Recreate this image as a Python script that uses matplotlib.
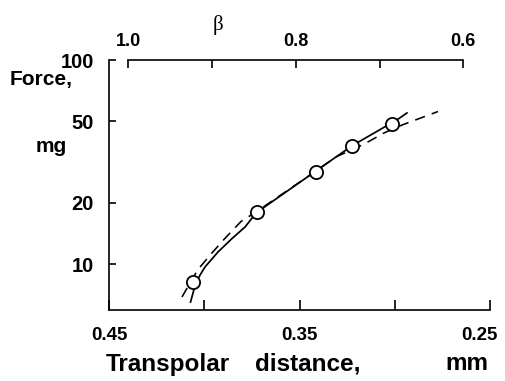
import matplotlib
matplotlib.use("Agg")
import matplotlib.pyplot as plt
from matplotlib.ticker import NullLocator
from matplotlib.transforms import ScaledTranslation

# -------------------------------
# Values
# -------------------------------

# measured points: transpolar distance (mm) and force (mg)
points_distance = [0.4057, 0.3724, 0.3413, 0.3226, 0.3014]
points_force = [8.15, 18.0, 28.4, 38.0, 48.6]

# solid curve
solid_distance = [0.4072, 0.4046, 0.4022, 0.3996, 0.3928, 0.3854, 0.3786,
                  0.3728, 0.3413, 0.3224, 0.3051, 0.3012, 0.2936]
solid_force = [6.51, 7.98, 8.83, 9.67, 11.45, 13.34, 15.18,
               17.8, 28.6, 38.0, 47.1, 49.1, 55.0]

# dashed curve
dashed_distance = [0.4117, 0.4035, 0.3962, 0.3891, 0.3807, 0.3728, 0.3413,
                   0.3308, 0.3161, 0.3056, 0.2962, 0.2773]
dashed_force = [6.89, 9.35, 11.26, 13.37, 16.16, 18.0, 28.6,
                33.5, 38.7, 43.9, 48.0, 55.9]

x_ticks = [0.45, 0.40, 0.35, 0.30, 0.25]
x_ticklabels = ["0.45", "", "0.35", "", "0.25"]
y_ticks = [10, 20, 50, 100]
y_ticklabels = ["10", "20", "50", "100"]
beta_ticks = [1.0, 0.9, 0.8, 0.7, 0.6]
beta_ticklabels = ["1.0", "", "0.8", "", "0.6"]
beta_ref = 0.44  # transpolar distance where beta = 1

# -------------------------------
# Figure
# -------------------------------

plt.rcParams["font.family"] = ["Liberation Sans", "DejaVu Sans"]
plt.rcParams["font.weight"] = "bold"

fig = plt.figure(figsize=(5.05, 3.81), dpi=100)
ax = fig.add_axes([109 / 505, 71 / 381, 381 / 505, 250 / 381])

ax.plot(solid_distance, solid_force, color="black", lw=1.25, zorder=2)
ax.plot(dashed_distance, dashed_force, color="black", lw=1.15,
        linestyle=(0, (6.5, 4.5)), zorder=2)
ax.plot(points_distance, points_force, "o", ms=9.5, mfc="white", mec="black",
        mew=1.3, zorder=3)

ax.set_yscale("log")
ax.set_xlim(0.45, 0.25)
ax.set_ylim(5.95, 100)

ax.set_xticks(x_ticks)
ax.set_xticklabels(x_ticklabels, fontsize=13.5, fontweight="bold")
ax.set_yticks(y_ticks)
ax.set_yticklabels(y_ticklabels, fontsize=14.5, fontweight="bold")
ax.yaxis.set_minor_locator(NullLocator())
ax.tick_params(axis="x", direction="in", length=7, width=1.2, pad=12)
ax.tick_params(axis="y", direction="in", length=5, width=1.2, pad=11)

# last bottom label sits a bit past its tick, as in the original
last = ax.xaxis.get_ticklabels()[-1]
last.set_horizontalalignment("right")
last.set_transform(last.get_transform() + ScaledTranslation(0.08, 0, fig.dpi_scale_trans))

for side in ["top", "right"]:
    ax.spines[side].set_visible(False)
for side in ["left", "bottom"]:
    ax.spines[side].set_linewidth(1.2)

# top beta axis
ax2 = ax.twiny()
ax2.set_xlim(ax.get_xlim())
ax2.set_xticks([b * beta_ref for b in beta_ticks])
ax2.set_xticklabels(beta_ticklabels, fontsize=13, fontweight="bold")
ax2.tick_params(axis="x", direction="in", length=6, width=1.2, pad=7)
for side in ["left", "right", "bottom"]:
    ax2.spines[side].set_visible(False)
ax2.spines["top"].set_linewidth(1.2)
ax2.spines["top"].set_bounds(beta_ticks[0] * beta_ref, beta_ticks[-1] * beta_ref)

fig.text(218 / 505, 1 - 25 / 381, "β", family="Liberation Serif",
         fontweight="normal", fontsize=15, ha="center", va="center")

# axis titles
fig.text(10 / 505, 1 - 80 / 381, "Force,", fontsize=15, fontweight="bold",
         ha="left", va="center")
fig.text(51 / 505, 1 - 146 / 381, "mg", fontsize=15, fontweight="bold",
         ha="center", va="center")

for word, xc in [("Transpolar", 168), ("distance,", 308), ("mm", 467)]:
    fig.text(xc / 505, 1 - 364 / 381, word, fontsize=17.5, fontweight="bold",
             ha="center", va="center")

fig.savefig("out.png", dpi=100)
